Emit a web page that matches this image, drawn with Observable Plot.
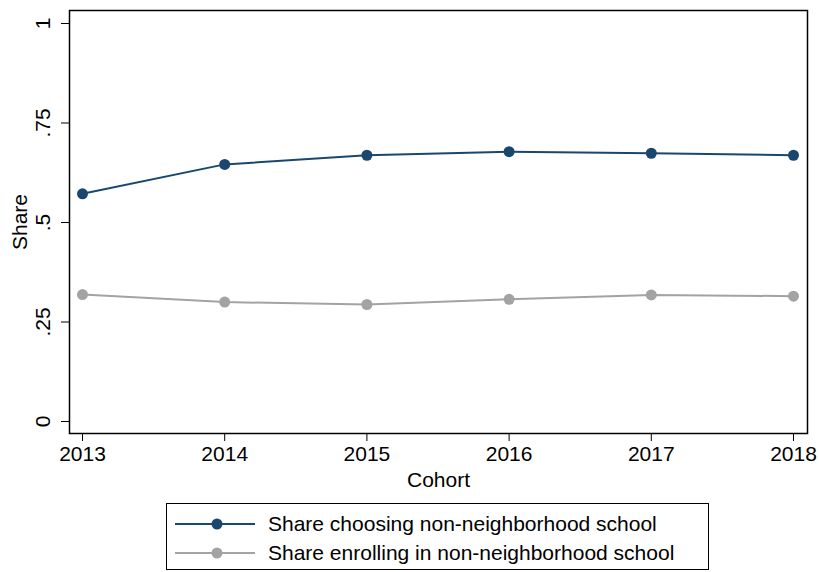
<!DOCTYPE html>
<html>
<head>
<meta charset="utf-8">
<script src="https://cdn.jsdelivr.net/npm/d3@7"></script>
<script src="https://cdn.jsdelivr.net/npm/@observablehq/plot@0.6"></script>
<style>
  body { margin: 0; background: #fff; font-family: "Liberation Sans", Arial, sans-serif; }
  #chart svg { display: block; }
  .legend { position: absolute; left: 166px; top: 503px; width: 541px; height: 65px; border: 1px solid #000; background: #fff; }
  .legend .row { position: absolute; left: 0; height: 28px; display: flex; align-items: center; font-size: 21px; color: #000; white-space: nowrap; }
  .legend svg { display: block; }
</style>
</head>
<body>
<div id="chart"></div>
<div class="legend" id="legend"></div>
<script>
const cohorts = [2013, 2014, 2015, 2016, 2017, 2018];
const seriesNames = ["Share choosing non-neighborhood school", "Share enrolling in non-neighborhood school"];
const choosing = [0.572, 0.646, 0.669, 0.678, 0.674, 0.669];
const enrolling = [0.319, 0.300, 0.294, 0.307, 0.318, 0.315];
const yTickValues = [0, 0.25, 0.5, 0.75, 1];
const yTickLabels = ["0", ".25", ".5", ".75", "1"];
const colors = ["#1a476f", "#a3a3a3"];

const rows = [];
cohorts.forEach((c, i) => rows.push({year: c, value: choosing[i], series: seriesNames[0]}));
cohorts.forEach((c, i) => rows.push({year: c, value: enrolling[i], series: seriesNames[1]}));
const yTicks = yTickValues.map((v, i) => ({v, label: yTickLabels[i]}));

const chart = Plot.plot({
  width: 819,
  height: 498,
  marginLeft: 69,
  marginRight: 12,
  marginTop: 10,
  marginBottom: 65,
  insetLeft: 13,
  insetRight: 14,
  insetTop: 13,
  insetBottom: 12,
  style: {fontFamily: "'Liberation Sans', Arial, sans-serif", fontSize: "21px", color: "#000", background: "#fff"},
  x: {domain: [2013, 2018]},
  y: {domain: [0, 1]},
  color: {domain: seriesNames, range: colors},
  marks: [
    Plot.axisX({ticks: cohorts, tickFormat: d => String(d), tickSize: 8, tickPadding: 5, label: null, fontSize: 21}),
    Plot.axisY({ticks: yTickValues, tickSize: 8, tickFormat: () => "", label: null}),
    Plot.text(yTicks, {y: "v", text: "label", frameAnchor: "left", dx: -26, rotate: -90, textAnchor: "middle", lineAnchor: "middle", fontSize: 21}),
    Plot.text(["Share"], {frameAnchor: "left", dx: -49, rotate: -90, textAnchor: "middle", lineAnchor: "middle", fontSize: 21}),
    Plot.text(["Cohort"], {frameAnchor: "bottom", dy: 47, textAnchor: "middle", lineAnchor: "middle", fontSize: 21}),
    Plot.line(rows, {x: "year", y: "value", z: "series", stroke: "series", strokeWidth: 2}),
    Plot.dot(rows, {x: "year", y: "value", fill: "series", r: 5.5}),
    Plot.frame({stroke: "#000", strokeWidth: 1.5})
  ]
});
document.getElementById("chart").appendChild(chart);

const legend = document.getElementById("legend");
seriesNames.forEach((name, i) => {
  const row = document.createElement("div");
  row.className = "row";
  row.style.top = (6 + i * 29) + "px";
  row.innerHTML = `<svg width="93" height="28" style="margin-left:8px"><line x1="0" x2="80" y1="14" y2="14" stroke="${colors[i]}" stroke-width="2"/><circle cx="42" cy="14" r="5.5" fill="${colors[i]}"/></svg><span>${name}</span>`;
  legend.appendChild(row);
});
</script>
</body>
</html>
